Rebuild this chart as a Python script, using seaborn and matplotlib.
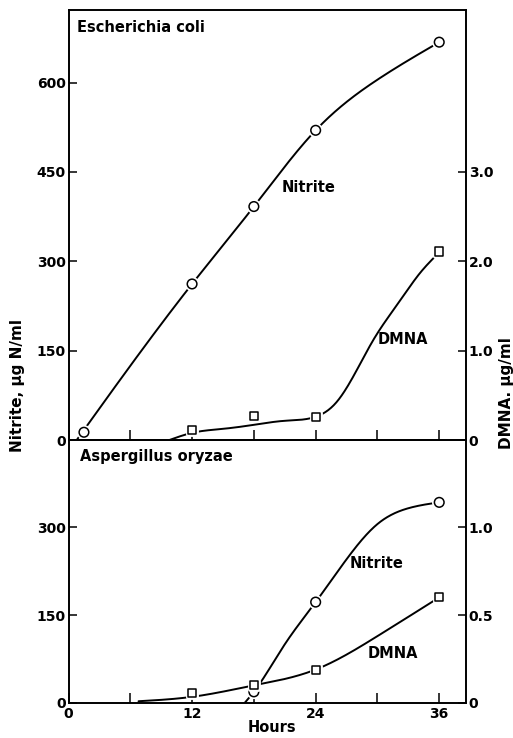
import numpy as np
import pandas as pd
import matplotlib
matplotlib.use("Agg")
import matplotlib.pyplot as plt
import matplotlib.patheffects as pe
import seaborn as sns

# ---------------- data ----------------
# Escherichia coli
ecoli_nitrite_h = [1.5, 12, 18, 24, 36]
ecoli_nitrite = [13, 262, 392, 520, 668]          # ug N/ml (left axis)
ecoli_dmna_h = [12, 18, 24, 36]
ecoli_dmna = [0.11, 0.27, 0.26, 2.11]             # ug/ml (right axis)
# hand-drawn fitted curves (trace of the drawn lines)
ecoli_nitrite_curve_h = [0.8, 12, 18, 24, 30, 36]
ecoli_nitrite_curve = [0, 262, 392, 520, 605, 668]
ecoli_dmna_curve_h = [9.8, 12, 15, 18, 21, 24, 26, 27.6, 29.6, 32.2, 34, 36]
ecoli_dmna_curve = [0, 0.08, 0.125, 0.17, 0.215, 0.26, 0.42, 0.70, 1.12, 1.56, 1.85, 2.1]

# Aspergillus oryzae
asp_nitrite_h = [18, 24, 36]
asp_nitrite = [19, 172, 342]
asp_dmna_h = [12, 18, 24, 36]
asp_dmna = [0.057, 0.10, 0.19, 0.60]
asp_nitrite_curve_h = [17.1, 18, 21, 24, 27, 30, 33, 36]
asp_nitrite_curve = [0, 19, 100, 172, 245, 305, 332, 342]
asp_dmna_curve_h = [6.8, 12, 18, 24, 30, 36]
asp_dmna_curve = [0.01, 0.035, 0.1, 0.19, 0.38, 0.60]

hour_ticks = [0, 12, 24, 36]
hour_minor = [6, 18, 30]
ecoli_left_ticks = [0, 150, 300, 450, 600]
ecoli_right_ticks = [0, 1.0, 2.0, 3.0]
ecoli_right_labels = ["0", "1.0", "2.0", "3.0"]
asp_left_ticks = [0, 150, 300]
asp_right_ticks = [0, 0.5, 1.0]
asp_right_labels = ["0", "0.5", "1.0"]


def smooth_curve(x, y, n=300):
    """Natural cubic spline through the traced curve points."""
    x = np.asarray(x, float); y = np.asarray(y, float)
    k = len(x); h = np.diff(x)
    A = np.zeros((k, k)); b = np.zeros(k)
    A[0, 0] = A[-1, -1] = 1
    for i in range(1, k - 1):
        A[i, i - 1] = h[i - 1]; A[i, i] = 2 * (h[i - 1] + h[i]); A[i, i + 1] = h[i]
        b[i] = 6 * ((y[i + 1] - y[i]) / h[i] - (y[i] - y[i - 1]) / h[i - 1])
    M = np.linalg.solve(A, b)
    xs = np.linspace(x[0], x[-1], n)
    idx = np.clip(np.searchsorted(x, xs) - 1, 0, k - 2)
    x0, x1 = x[idx], x[idx + 1]; hh = h[idx]
    ys = (M[idx] * (x1 - xs) ** 3 / (6 * hh) + M[idx + 1] * (xs - x0) ** 3 / (6 * hh)
          + (y[idx] / hh - M[idx] * hh / 6) * (x1 - xs)
          + (y[idx + 1] / hh - M[idx + 1] * hh / 6) * (xs - x0))
    return xs, ys


sns.set_style("ticks")
plt.rcParams["font.family"] = ["DejaVu Sans"]
plt.rcParams["font.weight"] = "bold"
plt.rcParams["text.color"] = "black"
plt.rcParams["xtick.color"] = "black"
plt.rcParams["ytick.color"] = "black"
plt.rcParams["xtick.labelcolor"] = "black"
plt.rcParams["ytick.labelcolor"] = "black"

fig = plt.figure(figsize=(5.13, 7.38), dpi=100)
L, W = 68.5 / 513, (466 - 68.5) / 513
ax1 = fig.add_axes([L, 1 - 440 / 738, W, 430 / 738])
ax2 = fig.add_axes([L, 1 - 703 / 738, W, 263 / 738])

tick_kw = dict(direction="in", length=6, width=1.1, labelsize=10, color="black",
               labelcolor="black")
stroke = [pe.withStroke(linewidth=3.5, foreground="white")]


def panel(ax, top, right_scale, nit_h, nit, dm_h, dm, nc_h, nc, dc_h, dc,
          lticks, rticks, rlabels):
    ax.set_xlim(0, 38.6)
    ax.set_ylim(0, top)
    axr = ax.twinx()
    axr.set_ylim(0, top / right_scale)
    xs, ys = smooth_curve(nc_h, nc)
    sns.lineplot(x=xs, y=ys, ax=ax, color="black", linewidth=1.4, sort=False)
    xs, ys = smooth_curve(dc_h, dc)
    sns.lineplot(x=xs, y=ys, ax=axr, color="black", linewidth=1.4, sort=False)
    sns.scatterplot(x=nit_h, y=nit, ax=ax, marker="o", s=48, facecolor="white",
                    edgecolor="black", linewidth=1.1, zorder=5, clip_on=False,
                    path_effects=stroke)
    sns.scatterplot(x=dm_h, y=dm, ax=axr, marker="s", s=34, facecolor="white",
                    edgecolor="black", linewidth=1.1, zorder=5, clip_on=False,
                    path_effects=stroke)
    for a in (ax, axr):
        for s in a.spines.values():
            s.set_linewidth(1.2)
            s.set_color("black")
    ax.set_yticks(lticks)
    ax.set_yticklabels([str(t) for t in lticks])
    axr.set_yticks(rticks)
    axr.set_yticklabels(rlabels)
    ax.tick_params(axis="y", pad=2, **tick_kw)
    axr.tick_params(axis="y", pad=2, **tick_kw)
    ax.set_xticks(hour_ticks)
    ax.set_xticks(hour_minor, minor=True)
    ax.tick_params(axis="x", which="both", direction="in", length=7, width=1.1,
                   labelsize=10, pad=3, color="black", labelcolor="black")
    ax.set_xlabel(""); ax.set_ylabel(""); axr.set_ylabel("")
    return axr


a1r = panel(ax1, 722, 150, ecoli_nitrite_h, ecoli_nitrite, ecoli_dmna_h, ecoli_dmna,
            ecoli_nitrite_curve_h, ecoli_nitrite_curve, ecoli_dmna_curve_h, ecoli_dmna_curve,
            ecoli_left_ticks, ecoli_right_ticks, ecoli_right_labels)
a2r = panel(ax2, 448.3, 300, asp_nitrite_h, asp_nitrite, asp_dmna_h, asp_dmna,
            asp_nitrite_curve_h, asp_nitrite_curve, asp_dmna_curve_h, asp_dmna_curve,
            asp_left_ticks, asp_right_ticks, asp_right_labels)
ax1.tick_params(axis="x", labelbottom=False)
ax2.set_xticklabels([str(t) for t in hour_ticks])

txt = dict(fontsize=10.5, fontweight="bold", color="black")
ax1.text(0.022, 0.977, "Escherichia coli", transform=ax1.transAxes, va="top", ha="left", **txt)
ax2.text(0.03, 0.965, "Aspergillus oryzae", transform=ax2.transAxes, va="top", ha="left", **txt)
ax1.text(20.7, 424, "Nitrite", va="center", ha="left", **txt)
ax1.text(30.0, 168, "DMNA", va="center", ha="left", **txt)
ax2.text(27.3, 238, "Nitrite", va="center", ha="left", **txt)
ax2.text(29.0, 85, "DMNA", va="center", ha="left", **txt)

fig.text(272 / 513, 1 - 727 / 738, "Hours", ha="center", va="center", fontsize=10.5,
         fontweight="bold", color="black")
fig.text(18 / 513, 1 - 386 / 738, "Nitrite, \u03bcg N/ml", rotation=90, ha="center",
         va="center", fontsize=11, fontweight="bold", color="black")
fig.text(506 / 513, 1 - 393 / 738, "DMNA. \u03bcg/ml", rotation=90, ha="center",
         va="center", fontsize=11, fontweight="bold", color="black")

fig.savefig("out.png", dpi=100)
